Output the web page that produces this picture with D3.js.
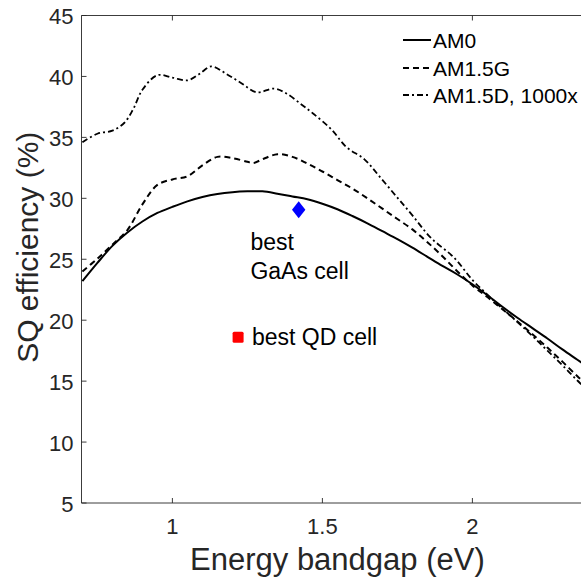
<!DOCTYPE html>
<html><head><meta charset="utf-8">
<script src="https://cdn.jsdelivr.net/npm/d3@7"></script>
<style>html,body{margin:0;padding:0;background:#fff;}svg{display:block;font-family:"Liberation Sans",Arial,sans-serif;}</style>
</head><body>
<svg id="c" width="581" height="581"></svg>
<script>
// ---- data ----
const am0X = [0.70,0.75,0.80,0.85,0.90,0.95,1.00,1.05,1.10,1.15,1.20,1.25,1.30,1.35,1.40,1.45,1.50,1.55,1.60,1.65,1.70,1.75,1.80,1.85,1.90,1.95,2.00,2.05,2.10,2.15,2.20,2.25,2.30,2.35,2.40];
const am0Y = [23.2,24.7,26.1,27.2,28.1,28.8,29.3,29.75,30.1,30.35,30.5,30.57,30.57,30.38,30.15,29.92,29.55,29.1,28.55,27.95,27.3,26.65,25.95,25.2,24.45,23.75,22.95,22.05,21.1,20.2,19.35,18.5,17.6,16.75,15.9];
const am15gX = [0.70,0.75,0.80,0.85,0.90,0.95,1.00,1.05,1.10,1.15,1.20,1.25,1.27,1.30,1.35,1.40,1.45,1.50,1.55,1.60,1.65,1.70,1.75,1.80,1.85,1.90,1.95,2.00,2.05,2.10,2.15,2.20,2.25,2.30,2.35,2.40];
const am15gY = [24.0,25.05,26.2,27.4,29.5,31.1,31.55,31.8,32.7,33.4,33.3,33.0,32.9,33.2,33.62,33.4,32.85,32.2,31.5,30.8,30.0,29.15,28.3,27.45,26.4,25.25,24.0,22.85,21.9,20.9,19.9,18.85,17.75,16.6,15.4,14.3];
const am15dX = [0.70,0.75,0.80,0.84,0.87,0.90,0.95,1.00,1.05,1.09,1.13,1.18,1.23,1.28,1.34,1.38,1.43,1.47,1.53,1.58,1.64,1.69,1.75,1.80,1.86,1.94,2.00,2.05,2.10,2.15,2.20,2.25,2.30,2.35,2.40];
const am15dY = [34.6,35.3,35.55,36.2,37.35,38.9,40.1,39.9,39.68,40.2,40.82,40.2,39.45,38.7,39.0,38.6,37.7,36.94,35.65,34.2,33.2,31.8,30.05,28.6,26.8,25.1,23.3,22.1,20.95,19.85,18.7,17.5,16.3,15.05,13.9];
const seriesNames = ["AM0","AM1.5G","AM1.5D, 1000x"];
const gaasCell = {x:1.421, y:29.07};
const qdCell = {x:1.219, y:18.6};
const xTicks = [1,1.5,2];
const yTicks = [5,10,15,20,25,30,35,40,45];
const xLabel = "Energy bandgap (eV)";
const yLabel = "SQ efficiency (%)";

// ---- layout ----
const svg = d3.select("#c");
const L = 81.5, T = 15.5, B = 503;
const x = d3.scaleLinear().domain([0.697,2.4]).range([L, L+1.703*300]);
const y = d3.scaleLinear().domain([5,45]).range([B, T]);
const R = 581;
const ink = "#262626";

svg.append("defs").append("clipPath").attr("id","clip")
  .append("rect").attr("x",L).attr("y",T).attr("width",R-L+20).attr("height",B-T);

// axes lines
svg.append("line").attr("x1",L).attr("x2",R+5).attr("y1",B).attr("y2",B).attr("stroke",ink).attr("stroke-width",0.9);
svg.append("line").attr("x1",L).attr("x2",R+5).attr("y1",T).attr("y2",T).attr("stroke",ink).attr("stroke-width",0.9);
svg.append("line").attr("x1",L).attr("x2",L).attr("y1",T).attr("y2",B).attr("stroke",ink).attr("stroke-width",0.9);

// ticks
const tk = 5;
xTicks.forEach(v=>{
  svg.append("line").attr("x1",x(v)).attr("x2",x(v)).attr("y1",B).attr("y2",B-tk).attr("stroke",ink).attr("stroke-width",0.9);
  svg.append("line").attr("x1",x(v)).attr("x2",x(v)).attr("y1",T).attr("y2",T+tk).attr("stroke",ink).attr("stroke-width",0.9);
  svg.append("text").attr("x",x(v)).attr("y",B+31).attr("text-anchor","middle")
    .attr("font-size",22).attr("fill",ink).text(String(v));
});
yTicks.forEach(v=>{
  svg.append("line").attr("x1",L).attr("x2",L+tk).attr("y1",y(v)).attr("y2",y(v)).attr("stroke",ink).attr("stroke-width",0.9);
  svg.append("text").attr("x",L-8).attr("y",y(v)+8.5).attr("text-anchor","end")
    .attr("font-size",22).attr("fill",ink).text(String(v));
});

// axis labels
svg.append("text").attr("x",x(1.5)+15).attr("y",570).attr("text-anchor","middle")
  .attr("font-size",31).attr("fill",ink).text(xLabel);
svg.append("text").attr("transform",`translate(37.5,${(T+B)/2-12}) rotate(-90)`).attr("text-anchor","middle")
  .attr("font-size",30).attr("fill",ink).text(yLabel);

// curves
const line = d3.line().x(d=>x(d[0])).y(d=>y(d[1])).curve(d3.curveCatmullRom.alpha(0.5));
const g = svg.append("g").attr("clip-path","url(#clip)");
const styles = [
  {xs:am0X, ys:am0Y, dash:null, w:2},
  {xs:am15gX, ys:am15gY, dash:"6,4", w:2},
  {xs:am15dX, ys:am15dY, dash:"6,3,2,3", w:1.8}
];
styles.forEach(s=>{
  const pts = s.xs.map((v,i)=>[v,s.ys[i]]);
  g.append("path").attr("d",line(pts)).attr("fill","none").attr("stroke","#000")
    .attr("stroke-width",s.w).attr("stroke-dasharray",s.dash);
});

// markers
const gx = x(gaasCell.x), gy = y(gaasCell.y);
svg.append("path").attr("d",`M${gx},${gy-8.5}L${gx+6.7},${gy}L${gx},${gy+8.5}L${gx-6.7},${gy}Z`).attr("fill","#0000ff");
svg.append("rect").attr("x",x(qdCell.x)-5.5).attr("y",y(qdCell.y)-5.5).attr("width",11).attr("height",11).attr("rx",1.5).attr("fill","#ff0000");

// annotations
svg.append("text").attr("x",x(1.26)).attr("y",y(25.8)).attr("font-size",23).attr("fill","#000").text("best");
svg.append("text").attr("x",x(1.26)).attr("y",y(23.36)).attr("font-size",23).attr("fill","#000").text("GaAs cell");
svg.append("text").attr("x",x(1.265)).attr("y",y(17.95)).attr("font-size",23).attr("fill","#000").text("best QD cell");

// legend
const lg = svg.append("g");
const legRows = [47-7, 75-7, 102-7];
seriesNames.forEach((n,i)=>{
  lg.append("line").attr("x1",403).attr("x2",431).attr("y1",legRows[i]).attr("y2",legRows[i])
    .attr("stroke","#000").attr("stroke-width",styles[i].w).attr("stroke-dasharray",styles[i].dash);
  lg.append("text").attr("x",433).attr("y",legRows[i]+7.5).attr("font-size",21).attr("fill","#000").text(n);
});
</script>
</body></html>
